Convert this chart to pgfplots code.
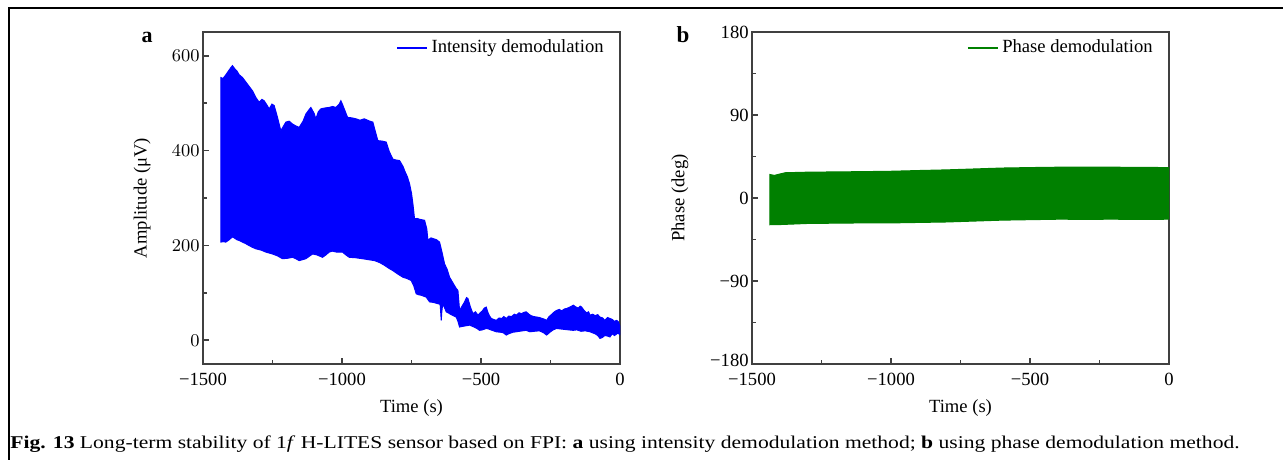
\documentclass[border=0pt]{standalone}
\usepackage{fontspec}
\setmainfont{Liberation Serif}
\newfontfamily\capfont[FakeStretch=1.2]{Liberation Serif}
\usepackage{pgfplots}
\usepackage{pgfplotstable}
\pgfplotsset{compat=1.18}
\definecolor{pgreen}{RGB}{0,128,0}
\definecolor{pblue}{RGB}{0,0,255}
\newcommand{\fs}{\fontsize{9.3bp}{11bp}\selectfont}

% panel a: upper envelope then lower envelope (reversed), closed band
\pgfplotstableread{
x y
-1436 207
-1436 554
-1428 552
-1420 558
-1408 568
-1400 575
-1394 579
-1385 572
-1378 568
-1370 560
-1358 554
-1340 540
-1322 526
-1310 512
-1298 502
-1288 508
-1280 505
-1270 496
-1262 488
-1252 498
-1244 495
-1232 470
-1220 442
-1210 452
-1202 460
-1190 462
-1178 456
-1166 452
-1154 449
-1140 462
-1130 477
-1120 485
-1112 491
-1100 478
-1094 467
-1085 482
-1076 488
-1060 490
-1046 491
-1034 493
-1022 491
-1010 498
-1004 505
-998 497
-992 488
-980 470
-965 469
-950 467
-935 464
-920 467
-900 462
-889 460
-880 440
-871 421
-856 420
-841 418
-830 398
-817 382
-805 380
-793 379
-780 366
-775 358
-765 345
-757 330
-750 310
-745 288
-739 256
-730 257
-720 255
-703 253
-695 235
-691 211
-680 216
-670 214
-660 212
-649 207
-640 185
-631 161
-622 150
-613 133
-600 120
-590 110
-583 105
-577 63
-568 72
-560 80
-552 90
-547 88
-538 70
-529 56
-520 60
-511 53
-503 58
-495 62
-488 68
-481 70
-476 60
-470 52
-463 46
-455 44
-445 42
-435 47
-425 46
-418 50
-409 46
-400 51
-390 50
-380 55
-373 53
-363 58
-355 56
-345 59
-337 60
-328 55
-320 52
-310 50
-300 49
-290 48
-280 46
-270 44
-264 42
-255 50
-245 55
-236 60
-228 63
-218 65
-210 62
-200 66
-192 67
-180 70
-168 74
-158 70
-150 68
-143 72
-138 70
-128 62
-120 58
-113 60
-108 53
-98 55
-90 52
-80 54
-72 49
-62 47
-55 42
-45 48
-36 46
-28 44
-20 40
-12 42
-6 39
0 30
0 12
-8 15
-20 10
-28 14
-36 7
-45 9
-55 10
-63 6
-72 4
-80 10
-90 14
-100 16
-108 18
-125 20
-140 19
-155 22
-168 21
-185 22
-200 23
-215 24
-228 25
-240 22
-250 18
-258 14
-264 11
-275 16
-290 20
-308 19
-324 18
-338 21
-350 20
-362 19
-373 18
-385 17
-395 15
-403 13
-409 11
-420 16
-430 17
-445 18
-455 20
-465 22
-473 24
-481 25
-495 22
-505 21
-515 25
-525 28
-533 30
-541 32
-550 31
-560 30
-570 29
-577 28
-583 40
-589 49
-600 52
-610 55
-618 58
-625 60
-632 70
-638 76
-641 60
-643 42
-645 60
-647 76
-660 78
-672 80
-685 81
-697 91
-706 93
-715 95
-724 96
-733 98
-742 115
-751 126
-765 130
-781 133
-800 140
-817 147
-832 152
-847 158
-865 164
-883 168
-905 170
-926 172
-950 174
-974 175
-986 180
-998 186
-1020 186
-1035 188
-1046 186
-1058 180
-1070 175
-1090 180
-1106 182
-1118 177
-1130 172
-1142 170
-1154 168
-1166 172
-1178 175
-1195 173
-1214 172
-1232 178
-1250 182
-1262 184
-1274 186
-1290 190
-1310 193
-1322 196
-1335 200
-1347 204
-1358 207
-1368 210
-1378 212
-1388 216
-1394 218
-1400 215
-1408 211
-1418 207
-1428 208
-1436 207
}\bandA

% panel b: upper envelope then lower envelope (reversed), closed band
\pgfplotstableread{
x y
-1436 -29
-1436 25.5
-1420 24.5
-1400 26.0
-1380 27.4
-1300 28.0
-1200 28.3
-1100 28.6
-1000 29.0
-900 29.8
-800 30.5
-700 31.5
-600 32.5
-500 33.0
-400 33.4
-300 33.6
-200 33.4
-100 33.2
0 33.0
0 -23.0
-100 -23.2
-200 -23.0
-300 -23.1
-400 -23.0
-500 -23.5
-600 -24.0
-700 -25.0
-800 -26.0
-900 -26.5
-1000 -27.0
-1100 -27.0
-1200 -27.3
-1300 -27.6
-1400 -28.8
-1436 -29
}\bandB

\pgfplotsset{
  panel/.style={
    scale only axis, width=208.5bp, height=166bp, anchor=south west,
    xmin=-1500, xmax=0,
    xtick={-1500,-1000,-500,0}, xticklabels={−1500,−1000,−500,0},
    minor x tick num=1, minor y tick num=1,
    tick align=inside, tick pos=left,
    major tick length=3bp, minor tick length=2.2bp,
    axis line style={black!75, line width=0.8bp},
    every tick/.style={black!75, line width=0.8bp},
    tick label style={font=\fs},
    xticklabel style={inner sep=0.5bp, yshift=-4.1bp},
    yticklabel style={inner sep=0.5bp, xshift=-1bp},
    label style={font=\fs},
    xlabel={Time (s)},
    xlabel style={at={(axis description cs:0.5,-0.1325)}, anchor=center},
    legend style={draw=none, fill=none, font=\fs, at={(0.970,0.952)}, anchor=east,
      inner sep=0pt, nodes={inner sep=1.75bp}},
    legend cell align=left,
    legend image code/.code={\draw[##1,line width=0.8bp] (0bp,0bp) -- (15bp,0bp);},
  }
}

\begin{document}
\begin{tikzpicture}
\path[use as bounding box] (0,0) rectangle (641.5bp,-230bp);
\draw[line width=1bp] (4.5bp,-230bp) -- (4.5bp,-4bp) -- (641.5bp,-4bp);

\begin{axis}[panel, at={(101.5bp,-182bp)},
  ymin=-50, ymax=650, ytick={0,200,400,600},
  ylabel={Amplitude (μV)},
  ylabel style={at={(axis description cs:-0.146,0.5)}, anchor=center}]
\addplot[fill=pblue, draw=pblue, line width=0.5bp, forget plot] table {\bandA} -- cycle;
\addlegendimage{pblue}
\addlegendentry{Intensity demodulation}
\end{axis}

\begin{axis}[panel, at={(376bp,-182bp)},
  ymin=-180, ymax=180, ytick={-180,-90,0,90,180},
  yticklabels={−180,−90,0,90,180},
  yticklabel style={/utils/exec={\ifnum\ticknum=0 \pgfkeysalso{yshift=1.8bp}\fi}},
  ylabel={Phase (deg)},
  ylabel style={at={(axis description cs:-0.173,0.5)}, anchor=center}]
\addplot[fill=pgreen, draw=pgreen, line width=0.5bp, forget plot] table {\bandB} -- cycle;
\addlegendimage{pgreen}
\addlegendentry{Phase demodulation}
\end{axis}

\node[font=\bfseries\fontsize{11bp}{13bp}\selectfont, anchor=base, inner sep=0pt] at (73.5bp,-21bp) {a};
\node[font=\bfseries\fontsize{11.5bp}{13bp}\selectfont, anchor=base, inner sep=0pt] at (341.5bp,-21bp) {b};
\node[font=\capfont\fontsize{9bp}{11bp}\selectfont, anchor=base west, inner sep=0pt] at (5bp,-224bp)
  {\textbf{Fig. 13} Long-term stability of 1\textit{f} H-LITES sensor based on FPI: \textbf{a} using intensity demodulation method; \textbf{b} using phase demodulation method.};
\end{tikzpicture}
\end{document}
